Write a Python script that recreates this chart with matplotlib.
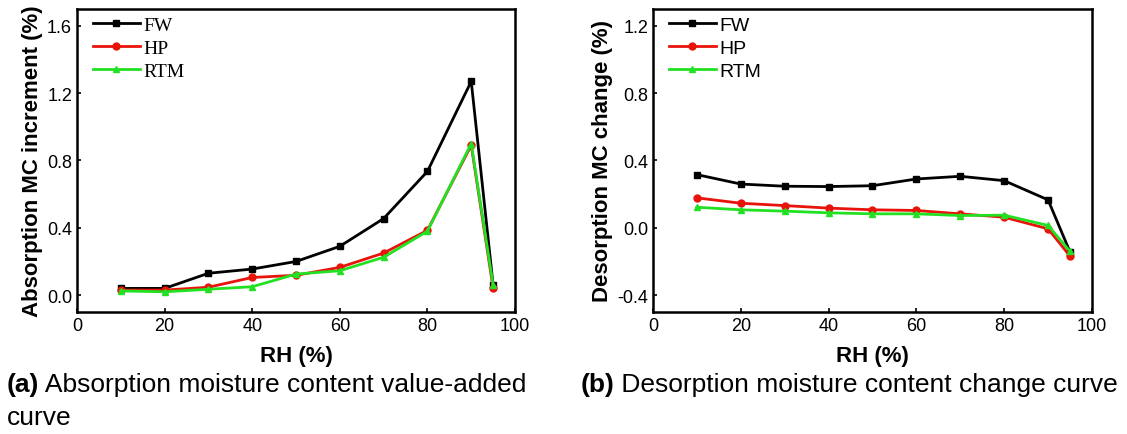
import matplotlib
matplotlib.use("Agg")
import matplotlib.pyplot as plt

rh = [10, 20, 30, 40, 50, 60, 70, 80, 90, 95]

# absorption MC increment (%)
abs_fw = [0.04, 0.04, 0.13, 0.155, 0.20, 0.29, 0.455, 0.735, 1.27, 0.06]
abs_hp = [0.03, 0.03, 0.047, 0.105, 0.118, 0.165, 0.25, 0.385, 0.89, 0.04]
abs_rtm = [0.025, 0.02, 0.035, 0.05, 0.125, 0.145, 0.225, 0.38, 0.90, 0.06]

# desorption MC change (%)
des_fw = [0.316, 0.26, 0.247, 0.245, 0.25, 0.29, 0.306, 0.28, 0.166, -0.143]
des_hp = [0.178, 0.146, 0.132, 0.117, 0.107, 0.103, 0.083, 0.063, -0.006, -0.168]
des_rtm = [0.122, 0.107, 0.099, 0.089, 0.083, 0.083, 0.073, 0.075, 0.014, -0.14]

labels = ["FW", "HP", "RTM"]
colors = ["#000000", "#e8140c", "#22e022"]
markers = ["s", "o", "^"]

plt.rcParams["font.family"] = ["Liberation Sans", "DejaVu Sans"]

fig = plt.figure(figsize=(11.27, 4.35), dpi=100)
ax1 = fig.add_axes([0.0683, 0.2805, 0.3887, 0.6966])
ax2 = fig.add_axes([0.5794, 0.2805, 0.3895, 0.6966])


def draw(ax, series, ylim, yticks, ylabel, legend_font):
    for y, lab, c, m in zip(series, labels, colors, markers):
        ax.plot(rh, y, color=c, marker=m, markersize=5, linewidth=2, label=lab)
    ax.set_xlim(0, 100)
    ax.set_ylim(*ylim)
    ax.set_xticks([0, 20, 40, 60, 80, 100])
    ax.set_yticks(yticks)
    ax.set_yticklabels([f"{t:.1f}" for t in yticks])
    ax.tick_params(direction="in", length=3, width=1.2, labelsize=13)
    for s in ax.spines.values():
        s.set_linewidth(1.8)
    ax.set_xlabel("RH (%)", fontsize=16, fontweight="bold", labelpad=8)
    ax.set_ylabel(ylabel, fontsize=16, fontweight="bold", labelpad=3)
    ax.legend(loc="upper left", bbox_to_anchor=(0.01, 1.015), frameon=False,
              prop={"family": legend_font, "size": 14},
              handlelength=2.4, handletextpad=0.2, labelspacing=0.28,
              borderaxespad=0.3, borderpad=0.3)


draw(ax1, [abs_fw, abs_hp, abs_rtm], (-0.1, 1.7), [0.0, 0.4, 0.8, 1.2, 1.6],
     "Absorption MC increment (%)", "Liberation Serif")
draw(ax2, [des_fw, des_hp, des_rtm], (-0.5, 1.3), [-0.4, 0.0, 0.4, 0.8, 1.2],
     "Desorption MC change (%)", "Liberation Sans")

t1 = fig.text(0.006, 0.099, "(a)", fontsize=19, fontweight="bold", va="baseline")
ax1.annotate(" Absorption moisture content value-added", xy=(1, 0), xycoords=t1,
             fontsize=19, va="bottom", annotation_clip=False)
fig.text(0.006, 0.023, "curve", fontsize=19, va="baseline")
t2 = fig.text(0.515, 0.099, "(b)", fontsize=19, fontweight="bold", va="baseline")
ax2.annotate(" Desorption moisture content change curve", xy=(1, 0), xycoords=t2,
             fontsize=19, va="bottom", annotation_clip=False)

fig.savefig("out.png", dpi=100)
